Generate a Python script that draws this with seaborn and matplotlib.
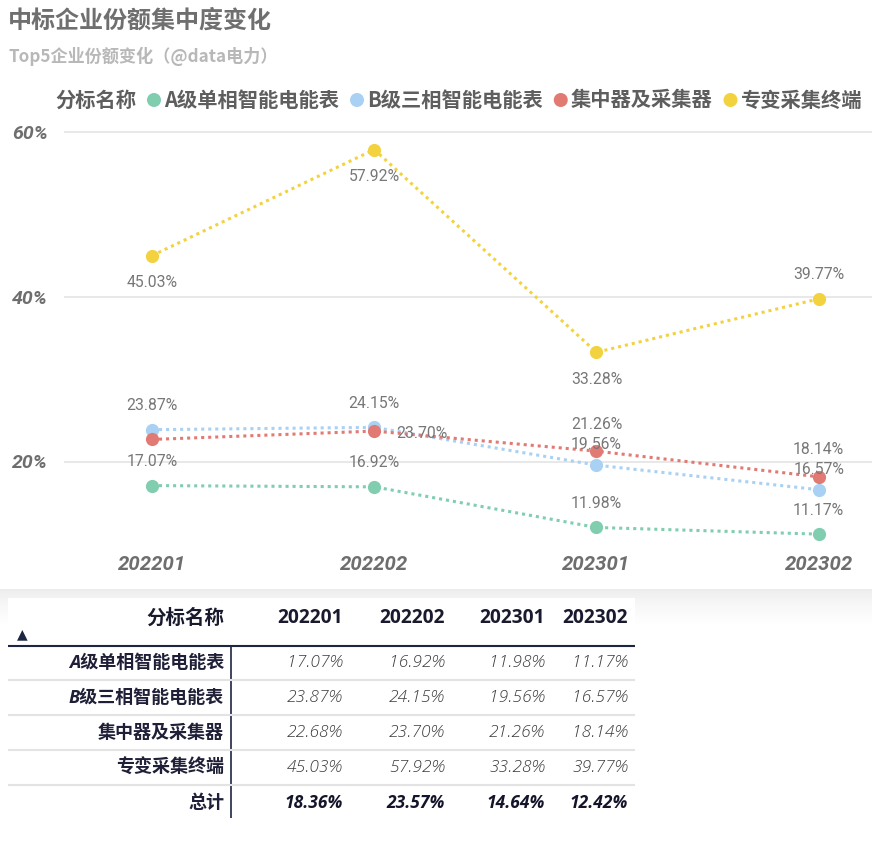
import numpy as np
import pandas as pd
import matplotlib
matplotlib.use('Agg')
import matplotlib.pyplot as plt
import seaborn as sns
from matplotlib.patches import Rectangle, Circle

# ---------------- data ----------------
periods = ['202201', '202202', '202301', '202302']
series_names = ['A级单相智能电能表', 'B级三相智能电能表', '集中器及采集器', '专变采集终端']
a_vals = [17.07, 16.92, 11.98, 11.17]
b_vals = [23.87, 24.15, 19.56, 16.57]
c_vals = [22.68, 23.70, 21.26, 18.14]
d_vals = [45.03, 57.92, 33.28, 39.77]
total_vals = [18.36, 23.57, 14.64, 12.42]
y_ticks = [20, 40, 60]
title = '中标企业份额集中度变化'
subtitle = 'Top5企业份额变化（@data电力）'
legend_title = '分标名称'
total_label = '总计'

# ---------------- styles ----------------
colors = ['#80CDB0', '#A9D1F3', '#E27A74', '#F3D23F']
A, B, R, N = (0, 24), (0, -27), (48, -2), None   # label offsets in pixels
label_pos = [
    [A, A, A, A],
    [A, A, (0, 21), (0, 20)],
    [N, R, (0, 27), (0, 27)],
    [B, B, B, A],
]
W, H = 872, 847
PX = 164.5 / 20.0   # pixels per percent
Y0 = 626            # pixel row of 0%

sns.set_theme(style='white')
plt.rcParams['font.family'] = ['Noto Sans CJK SC', 'DejaVu Sans']

fig = plt.figure(figsize=(W / 100, H / 100), dpi=100)
fig.patch.set_facecolor('white')

# background / overlay axes in pixel coordinates
bg = fig.add_axes([0, 0, 1, 1], zorder=0)
grad = np.linspace(0.0, 1.0, 40)
grad = np.power(grad, 0.7) * 0.075 + 0.925
img = np.repeat(grad[:, None, None], 3, axis=2)
bg.imshow(img, extent=(0, W, 624, 589), aspect='auto', interpolation='bilinear')
bg.add_patch(Rectangle((8, 598), 627, 249, facecolor='white', edgecolor='none'))
bg.set_xlim(0, W)
bg.set_ylim(H, 0)
bg.axis('off')

# ---------------- chart ----------------
top_px, bot_px, left_px = 125, 540, 64
ax = fig.add_axes([left_px / W, 1 - bot_px / H, (W - left_px) / W, (bot_px - top_px) / H], zorder=1)
ax.set_facecolor('none')

df = pd.DataFrame({
    'period': periods * 4,
    'series': np.repeat(series_names, len(periods)),
    'value': a_vals + b_vals + c_vals + d_vals,
})
sns.lineplot(data=df, x='period', y='value', hue='series', hue_order=series_names,
             palette=colors, marker='o', markersize=9.5, markeredgewidth=0,
             linewidth=2.2, linestyle=(0, (1, 1.3)), sort=False, legend=False, ax=ax)

ax.set_xlim(-0.396, 3.24)
ax.set_ylim((Y0 - bot_px) / PX, (Y0 - top_px) / PX)
ax.set_yticks(y_ticks)
ax.set_yticklabels([f'{t}%' for t in y_ticks])
ax.grid(axis='y', color='#e4e4e4', linewidth=1.2)
ax.grid(axis='x', visible=False)
for s in ax.spines.values():
    s.set_visible(False)
ax.tick_params(axis='both', length=0)
ax.tick_params(axis='y', pad=11.5)
ax.tick_params(axis='x', pad=11)
for lab in ax.get_yticklabels():
    lab.set_fontfamily(['Roboto', 'DejaVu Sans'])
    lab.set_fontweight('bold')
    lab.set_fontstyle('italic')
    lab.set_fontsize(14)
    lab.set_color('#6e6e6e')
for lab in ax.get_xticklabels():
    lab.set_fontfamily(['Roboto', 'DejaVu Sans'])
    lab.set_fontweight('bold')
    lab.set_fontstyle('italic')
    lab.set_fontsize(14.7)
    lab.set_color('#6e6e6e')
ax.set_xlabel('')
ax.set_ylabel('')

all_vals = [a_vals, b_vals, c_vals, d_vals]
for i, vals in enumerate(all_vals):
    for j, v in enumerate(vals):
        off = label_pos[i][j]
        if off is None:
            continue
        ax.annotate(f'{v:.2f}%', (periods[j], v), xytext=off, textcoords='offset pixels',
                    ha='center', va='center', fontsize=11.3, color='#777777',
                    family=['Roboto', 'DejaVu Sans'], zorder=5)

# ---------------- titles ----------------
bg.text(8, 21, title, fontsize=17.3, fontweight='bold', color='#6f6f6f', va='center', ha='left')
bg.text(8, 56, subtitle, fontsize=12.3, fontweight='bold', color='#b8b8b8', va='center', ha='left')

# ---------------- legend ----------------
renderer = fig.canvas.get_renderer()
ly = 100
t = bg.text(55, ly, legend_title, fontsize=14.6, fontweight='bold', color='#5e5e5e', va='center', ha='left')
x_end = t.get_window_extent(renderer).x1
for name, col in zip(series_names, colors):
    mx = x_end + 18
    bg.add_patch(Circle((mx, ly), 7, facecolor=col, edgecolor='none'))
    t = bg.text(mx + 10, ly, name, fontsize=14.6, fontweight='bold', color='#5e5e5e', va='center', ha='left')
    x_end = t.get_window_extent(renderer).x1

# ---------------- table ----------------
navy = '#1c2541'
col_right = [343, 445, 545, 628]
head_y = 618
row_ys = [663, 698, 733, 768, 803]
latin_cjk = ['Open Sans', 'Noto Sans CJK SC']

bg.text(224, head_y, legend_title, fontsize=14, fontweight='bold', color='#1a1a2e', ha='right', va='center')
bg.text(22, 634, '▲', fontsize=10, color=navy, ha='center', va='center', family=['DejaVu Sans'])
for xr, p in zip(col_right, periods):
    bg.text(xr, head_y, p, fontsize=13.8, fontweight='bold', color='#1a1a2e', ha='right', va='center',
            family=latin_cjk)

bg.plot([8, 635], [646.5, 646.5], color=navy, linewidth=1.5, solid_capstyle='butt')
bg.plot([231, 231], [646.5, 818], color=navy, linewidth=1.2, solid_capstyle='butt')
for yy in [680.5, 715.5, 750.5, 785.5]:
    bg.plot([8, 635], [yy, yy], color='#e3e3e3', linewidth=1.5, solid_capstyle='butt')

for k, (name, vals) in enumerate(zip(series_names, all_vals)):
    y = row_ys[k]
    bg.text(224, y, name, fontsize=13, fontweight='bold', fontstyle='italic', color='#1f1f38',
            ha='right', va='center', family=latin_cjk)
    for xr, v in zip(col_right, vals):
        bg.text(xr, y, f'{v:.2f}%', fontsize=12.5, fontstyle='italic', fontweight='light',
                color='#3a3a3a', ha='right', va='center', family=latin_cjk)

y = row_ys[-1]
bg.text(224, y, total_label, fontsize=13, fontweight='bold', color='#1f1f38', ha='right', va='center',
        family=latin_cjk)
for xr, v in zip(col_right, total_vals):
    bg.text(xr, y, f'{v:.2f}%', fontsize=12.5, fontstyle='italic', fontweight='bold',
            color='#14142a', ha='right', va='center', family=latin_cjk)

fig.savefig('out.png', dpi=100, facecolor='white')
